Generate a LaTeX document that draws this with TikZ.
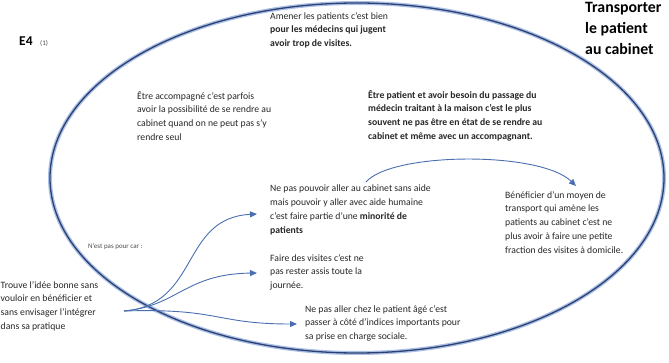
\documentclass[tikz,border=0pt]{standalone}
\usepackage{fontspec}
\setmainfont{Carlito}
\usetikzlibrary{arrows.meta}
\definecolor{arrowblue}{HTML}{4A6FB0}
\definecolor{ringblue}{HTML}{2E3F72}
\definecolor{glowblue}{HTML}{A9C0E6}

\begin{document}
\begin{tikzpicture}
                [x=1pt, y=-1pt,
                tsty/.style={anchor=north west, align=left, inner sep=0pt, text=black!85, font=\fontsize{9.7}{13.8}\selectfont},
                bsty/.style={tsty, font=\fontsize{9.7}{13.8}\selectfont\bfseries},
                hsty/.style={anchor=north west, align=left, inner sep=0pt, font=\fontsize{15.8}{21}\selectfont\bfseries},
                ssty/.style={anchor=west, inner sep=0pt, text=black!70, font=\fontsize{7}{8}\selectfont},
                asty/.style={-{Triangle[length=7pt, width=6pt]}, draw=arrowblue, fill=none, line width=0.9pt}]
                \useasboundingbox (0,0) rectangle (669,363);
                % ring
                \draw[glowblue, line width=4pt] (357,178) ellipse [x radius=307, y radius=175];
                \draw[ringblue, line width=1.3pt] (357,178) ellipse [x radius=307, y radius=175];
                % nodes
                \node[anchor=west, inner sep=0pt, font=\fontsize{13.5}{15}\selectfont\bfseries] (e4) at (19,41) {E4};
                \node[ssty] (one) at (40,43) {(1)};
                \node[hsty] (title) at (585,2) {Transporter\\le patient\\au cabinet};
                \node[tsty] (amener) at (270,12) {Amener les patients c'est bien\\\textbf{pour les médecins qui jugent}\\\textbf{avoir trop de visites.}};
                \node[tsty] (accomp) at (137,91) {Être accompagné c'est parfois\\avoir la possibilité de se rendre au\\cabinet quand on ne peut pas s'y\\rendre seul};
                \node[bsty] (besoin) at (368,90) {Être patient et avoir besoin du passage du\\médecin traitant à la maison c'est le plus\\souvent ne pas être en état de se rendre au\\cabinet et même avec un accompagnant.};
                \node[tsty] (minorite) at (270,185) {Ne pas pouvoir aller au cabinet sans aide\\mais pouvoir y aller avec aide humaine\\c'est faire partie d'une \textbf{minorité de}\\\textbf{patients}};
                \node[tsty] (visites) at (270,254) {Faire des visites c'est ne\\pas rester assis toute la\\journée.};
                \node[tsty] (indices) at (305,305) {Ne pas aller chez le patient âgé c'est\\passer à côté d'indices importants pour\\sa prise en charge sociale.};
                \node[tsty] (benef) at (505,191) {Bénéficier d'un moyen de\\transport qui amène les\\patients au cabinet c'est ne\\plus avoir à faire une petite\\fraction des visites à domicile.};
                \node[ssty] (nestpas) at (88,247) {N'est pas pour car :};
                \node[tsty] (trouve) at (0.5,281) {Trouve l'idée bonne sans\\vouloir en bénéficier et\\sans envisager l'intégrer\\dans sa pratique};
                % ends
                \coordinate (root) at (124,311);
                \coordinate (tipa) at (257,214);
                \coordinate (tipb) at (257,273);
                \coordinate (tipc) at (297,324);
                \coordinate (arcs) at (366,182);
                \coordinate (arce) at (576,186);
                % arrows
                \draw[asty] (root) .. controls (200,305) and (180,218) .. (tipa);
                \draw[asty] (root) .. controls (178,306) and (185,274) .. (tipb);
                \draw[asty] (root) .. controls (220,308) and (215,324) .. (tipc);
                \draw[asty] (arcs) .. controls (392,152) and (540,151) .. (arce);
            \end{tikzpicture}
\end{document}
